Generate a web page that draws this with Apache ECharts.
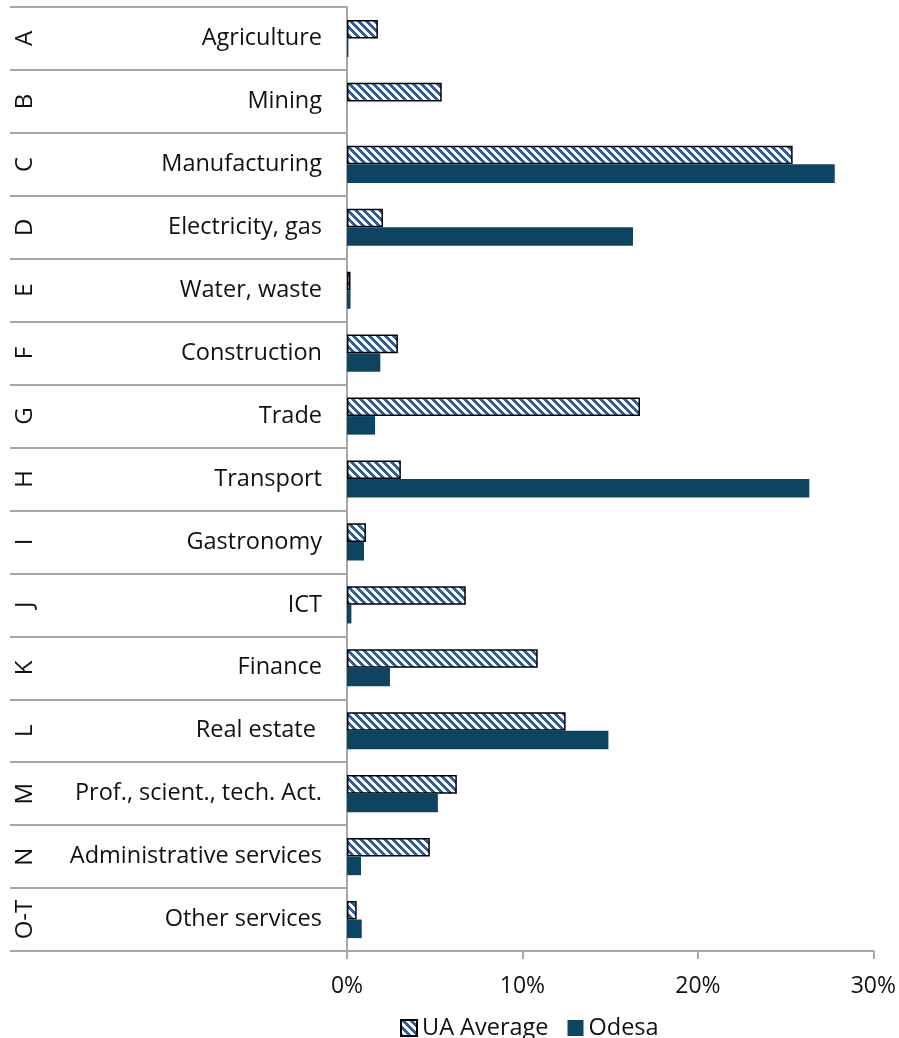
<!DOCTYPE html>
<html>
<head>
<meta charset="utf-8">
<script src="https://cdn.jsdelivr.net/npm/echarts@6/dist/echarts.min.js"></script>
<style>
html,body{margin:0;padding:0;background:#fff;}
#chart{width:899px;height:1038px;}
</style>
</head>
<body>
<div id="chart"></div>
<script>
const letters = ['A','B','C','D','E','F','G','H','I','J','K','L','M','N','O-T'];
const sectors = ['Agriculture','Mining','Manufacturing','Electricity, gas','Water, waste','Construction','Trade','Transport','Gastronomy','ICT','Finance','Real estate ','Prof., scient., tech. Act.','Administrative services','Other services'];
const uaAverage = [1.76, 5.4, 25.4, 2.05, 0.2, 2.9, 16.7, 3.07, 1.08, 6.77, 10.87, 12.46, 6.26, 4.72, 0.55];
const odesa = [0.08, 0, 27.8, 16.3, 0.2, 1.9, 1.6, 26.35, 0.97, 0.25, 2.45, 14.9, 5.18, 0.8, 0.84];
const xTicks = [0, 10, 20, 30];

const FONT = 'Open Sans';
const DARK = '#0D4462';

function hatch() {
  const s = 8;
  const c = document.createElement('canvas');
  c.width = s; c.height = s;
  const ctx = c.getContext('2d');
  const img = ctx.createImageData(s, s);
  for (let y = 0; y < s; y++) {
    for (let x = 0; x < s; x++) {
      const k = (((x - y) % s) + s) % s;
      const i = (y * s + x) * 4;
      const blue = k < 4;
      img.data[i] = blue ? 0x2F : 255;
      img.data[i+1] = blue ? 0x5E : 255;
      img.data[i+2] = blue ? 0x9E : 255;
      img.data[i+3] = 255;
    }
  }
  ctx.putImageData(img, 0, 0);
  return c;
}
const pattern = { image: hatch(), repeat: 'repeat' };

const chart = echarts.init(document.getElementById('chart'), null, {renderer: 'canvas'});
chart.setOption({
  animation: false,
  backgroundColor: '#fff',
  textStyle: { fontFamily: FONT },
  grid: { left: 347, right: 25, top: 7, bottom: 87, containLabel: false },
  legend: {
    left: 395, top: 1011,
    itemWidth: 16, itemHeight: 16, itemGap: 19,
    icon: 'rect',
    textStyle: { fontFamily: FONT, fontSize: 23.5, color: '#111' },
    data: ['UA Average', 'Odesa']
  },
  xAxis: {
    type: 'value', min: 0, max: 30, interval: 10,
    axisLine: { show: true, lineStyle: { color: '#A6A6A6', width: 2 } },
    axisTick: { show: true, length: 8, lineStyle: { color: '#A6A6A6', width: 2 } },
    axisLabel: { formatter: v => v + '%', fontFamily: FONT, fontSize: 23, color: '#111', margin: 24 },
    splitLine: { show: false },
    data: xTicks
  },
  yAxis: [
    {
      type: 'category', inverse: true, data: sectors,
      axisLine: { show: true, lineStyle: { color: '#A6A6A6', width: 2 } },
      axisTick: { show: true, length: 337, lineStyle: { color: '#A6A6A6', width: 2 } },
      axisLabel: { fontFamily: FONT, fontSize: 23.5, color: '#111', margin: 25, padding: [6, 0, 0, 0] }
    },
    {
      type: 'category', inverse: true, data: letters, position: 'left',
      axisLine: { show: false }, axisTick: { show: false },
      axisLabel: { fontFamily: FONT, fontSize: 24, color: '#111', rotate: 90, margin: 310 }
    }
  ],
  series: [
    {
      name: 'UA Average', type: 'bar', yAxisIndex: 0, data: uaAverage,
      barGap: '0%', barCategoryGap: '41%',
      itemStyle: { color: pattern, borderColor: '#000', borderWidth: 1.5 }
    },
    {
      name: 'Odesa', type: 'bar', yAxisIndex: 0, data: odesa,
      barGap: '0%', barCategoryGap: '41%',
      itemStyle: { color: DARK }
    }
  ]
});
</script>
</body>
</html>
